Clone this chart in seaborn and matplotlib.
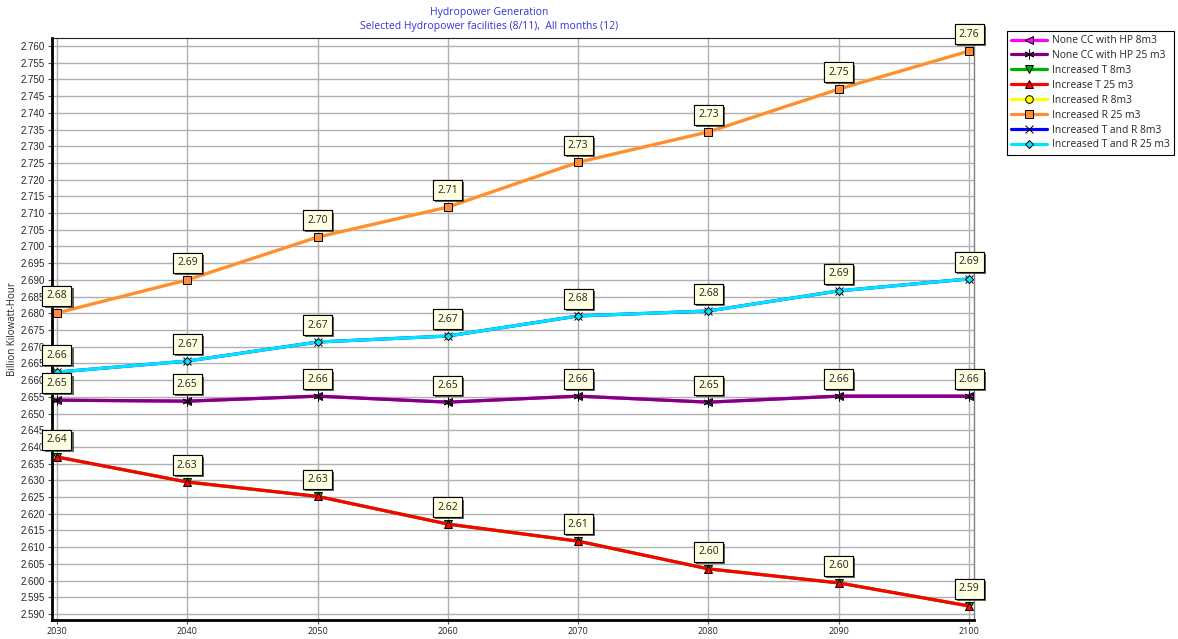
import matplotlib
matplotlib.use("Agg")
import matplotlib.pyplot as plt
import matplotlib.patheffects as pe
import pandas as pd
import seaborn as sns

# ---- data -------------------------------------------------------------
years = [2030, 2040, 2050, 2060, 2070, 2080, 2090, 2100]

series_names = [
    "None CC with HP 8m3",
    "None CC with HP 25 m3",
    "Increased T 8m3",
    "Increase T 25 m3",
    "Increased R 8m3",
    "Increased R 25 m3",
    "Increased T and R 8m3",
    "Increased T and R 25 m3",
]

none_cc_8 = [2.6540, 2.6537, 2.6552, 2.6534, 2.6552, 2.6534, 2.6552, 2.6552]
none_cc_25 = [2.6540, 2.6537, 2.6552, 2.6534, 2.6552, 2.6534, 2.6552, 2.6552]
inc_t_8 = [2.6370, 2.6295, 2.6252, 2.6169, 2.6118, 2.6035, 2.5993, 2.5924]
inc_t_25 = [2.6370, 2.6295, 2.6252, 2.6169, 2.6118, 2.6035, 2.5993, 2.5924]
inc_r_8 = [2.6801, 2.6900, 2.7028, 2.7118, 2.7252, 2.7343, 2.7471, 2.7585]
inc_r_25 = [2.6801, 2.6900, 2.7028, 2.7118, 2.7252, 2.7343, 2.7471, 2.7585]
inc_tr_8 = [2.6624, 2.6657, 2.6714, 2.6732, 2.6792, 2.6807, 2.6867, 2.6903]
inc_tr_25 = [2.6624, 2.6657, 2.6714, 2.6732, 2.6792, 2.6807, 2.6867, 2.6903]

all_values = [none_cc_8, none_cc_25, inc_t_8, inc_t_25,
              inc_r_8, inc_r_25, inc_tr_8, inc_tr_25]

# series whose value boxes are shown (the ones drawn on top)
labelled = ["None CC with HP 25 m3", "Increase T 25 m3",
            "Increased R 25 m3", "Increased T and R 25 m3"]

y_ticks = [round(2.590 + 0.005 * i, 3) for i in range(35)]

# ---- styling ----------------------------------------------------------
colors = {
    "None CC with HP 8m3": "#ff00ff",
    "None CC with HP 25 m3": "#800080",
    "Increased T 8m3": "#00b000",
    "Increase T 25 m3": "#ff0000",
    "Increased R 8m3": "#ffff00",
    "Increased R 25 m3": "#ff8c3a",
    "Increased T and R 8m3": "#0000ff",
    "Increased T and R 25 m3": "#00e5ff",
}
markers = {
    "None CC with HP 8m3": "<",
    "None CC with HP 25 m3": (6, 2, 0),
    "Increased T 8m3": "v",
    "Increase T 25 m3": "^",
    "Increased R 8m3": "o",
    "Increased R 25 m3": "s",
    "Increased T and R 8m3": "x",
    "Increased T and R 25 m3": "D",
}
marker_sizes = {"<": 6, (6, 2, 0): 7, "v": 6, "^": 6, "o": 5.5, "s": 5.5, "x": 6, "D": 4.5}

sns.set_theme(style="white")
plt.rcParams["font.family"] = ["Open Sans", "DejaVu Sans"]

fig = plt.figure(figsize=(11.78, 6.39), dpi=100)
ax = fig.add_axes([52 / 1178, 1 - 620 / 639, (974 - 52) / 1178, (620 - 38) / 639])

handles = []
for i, (name, vals) in enumerate(zip(series_names, all_values)):
    part = pd.DataFrame({"year": years, "value": vals})
    m = markers[name]
    sns.lineplot(
        data=part, x="year", y="value", color=colors[name], marker=m,
        markersize=marker_sizes[m], markerfacecolor=colors[name],
        markeredgecolor="black", markeredgewidth=0.7,
        linewidth=2.3, ax=ax, zorder=3 + i * 0.01, legend=False,
    )
    handles.append(ax.lines[-1])

ax.set_xlim(2029.62, 2100.38)
ax.set_ylim(2.5882, 2.7624)
ax.set_xticks(years)
ax.set_xticklabels([str(y) for y in years], fontsize=6.5, family="Open Sans")
ax.set_yticks(y_ticks)
ax.set_yticklabels([f"{t:.3f}" for t in y_ticks], fontsize=7, family="Liberation Sans")
ax.tick_params(axis="both", which="both", length=3, width=0.8, color="#505050",
               direction="out", pad=2, left=True, bottom=True)
ax.grid(True, color="#b0b0b0", linewidth=1.0)
ax.set_axisbelow(True)

ax.set_xlabel("")
ax.set_ylabel("Billion Kilowatt-Hour", fontsize=7, labelpad=2)

for side in ("left", "bottom"):
    ax.spines[side].set_color("black")
    ax.spines[side].set_linewidth(2.0)
ax.spines["top"].set_color("#202020")
ax.spines["top"].set_linewidth(0.8)
ax.spines["right"].set_color("#808080")
ax.spines["right"].set_linewidth(1.0)

# value boxes above the points
for name, vals in zip(series_names, all_values):
    if name not in labelled:
        continue
    for yr, v in zip(years, vals):
        t = ax.annotate(
            f"{v:.2f}", xy=(yr, v), xytext=(0, 17), textcoords="offset pixels",
            ha="center", va="center", fontsize=7.5, color="#202020",
            annotation_clip=False, zorder=6,
            bbox=dict(boxstyle="square,pad=0.4", fc="#ffffe1", ec="black", lw=0.8),
        )
        t.get_bbox_patch().set_path_effects([
            pe.withSimplePatchShadow(offset=(1.5, -1.5), shadow_rgbFace="#404040", alpha=0.8),
            pe.Normal(),
        ])

# legend at the upper right
leg = fig.legend(
    handles, series_names, loc="upper left",
    bbox_to_anchor=(1007 / 1178, 1 - 31 / 639), fontsize=7.4,
    frameon=True, fancybox=False, edgecolor="black", framealpha=1,
    handlelength=3.5, handletextpad=0.45, labelspacing=0.38,
    borderpad=0.4, borderaxespad=0,
)
leg.get_frame().set_linewidth(0.8)

# title
fig.text(489 / 1178, 1 - 12 / 639, "Hydropower Generation", ha="center", va="center",
         fontsize=7.5, color="#3434d8")
fig.text(489 / 1178, 1 - 26 / 639, "Selected Hydropower facilities (8/11),  All months (12)",
         ha="center", va="center", fontsize=7.5, color="#3434d8")

fig.savefig("out.png", dpi=100)
